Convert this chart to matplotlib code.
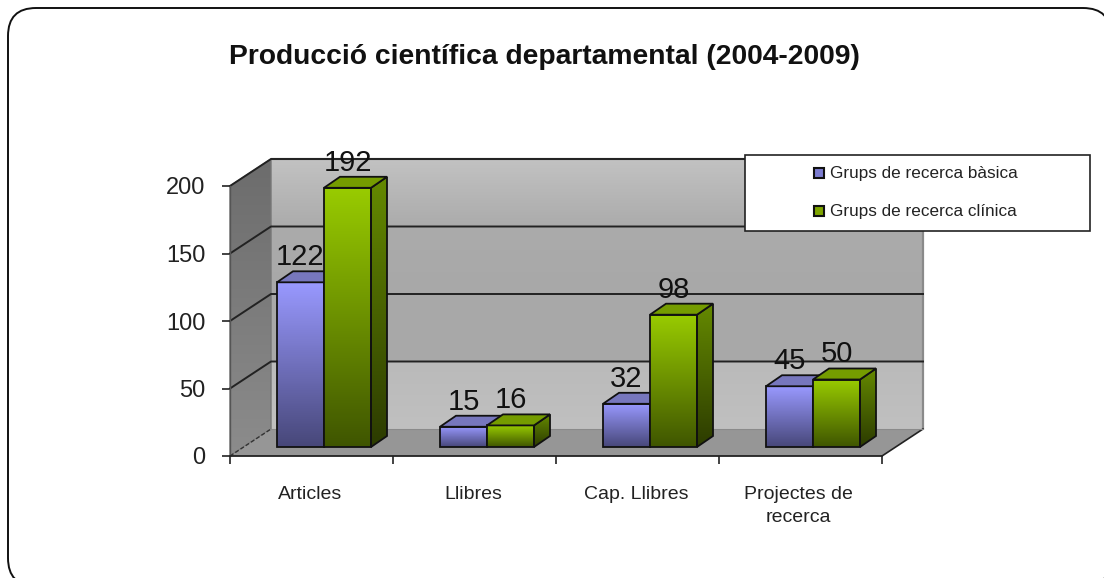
import matplotlib
matplotlib.use("Agg")
import matplotlib.pyplot as plt
from matplotlib.patches import Polygon, FancyBboxPatch, Rectangle
from matplotlib.colors import LinearSegmentedColormap
import numpy as np

categories = ["Articles", "Llibres", "Cap. Llibres", "Projectes de\nrecerca"]
basic_values = [122, 15, 32, 45]
clinical_values = [192, 16, 98, 50]
series_names = ["Grups de recerca bàsica", "Grups de recerca clínica"]
y_ticks = [0, 50, 100, 150, 200]
title = "Producció científica departamental (2004-2009)"

W, H = 1104, 578
plt.rcParams['font.family'] = ['Liberation Sans', 'DejaVu Sans']
fig = plt.figure(figsize=(W / 100, H / 100), dpi=100, facecolor='white')

# overlay in pixel space for the frame and title
bg = fig.add_axes([0, 0, 1, 1])
bg.set_xlim(0, W); bg.set_ylim(H, 0); bg.axis('off')
bg.add_patch(FancyBboxPatch((8, 8), 1103, 578, boxstyle="round,pad=0,rounding_size=28",
                            fc='white', ec='#111111', lw=1.4, clip_on=True))
bg.text(544, 57, title, ha='center', va='center', fontsize=20.3, fontweight='bold', color='#111111')

# front plane of the 3D chart
L, R, B, T = 230, 882, 456, 186
ax = fig.add_axes([L / W, 1 - B / H, (R - L) / W, (B - T) / H])
ax.set_xlim(0, len(categories)); ax.set_ylim(0, 200)
ax.patch.set_alpha(0)
sx = len(categories) / (R - L)      # data units per pixel
sy = 200 / (B - T)
for s in ('top', 'right', 'left'):
    ax.spines[s].set_visible(False)
ax.spines['bottom'].set_color('#222222'); ax.spines['bottom'].set_linewidth(1.3)
ax.spines['bottom'].set_zorder(8)
ax.set_xticks(range(len(categories) + 1)); ax.set_xticklabels([])
ax.set_yticks(y_ticks)
ax.tick_params(axis='y', length=5.8, width=1.2, color='#222222', labelsize=17, pad=12, labelcolor='#222222')
ax.tick_params(axis='x', length=5.5, width=1.2, color='#222222', direction='out')
for i, c in enumerate(categories):
    ax.text(i + 0.49, -22, c, ha='center', va='top', fontsize=14, color='#222222', linespacing=1.5)

dx, dy = 41 * sx, 27 * sy          # wall depth
wall_cm = LinearSegmentedColormap.from_list(
    'w', [(0, '#c0c0c0'), (0.25, '#bababa'), (0.25, '#a9a9a9'), (0.5, '#a8a8a8'), (0.75, '#ababab'), (1, '#c2c2c2')],
    N=512)
side_cm = LinearSegmentedColormap.from_list('s', ['#8c8c8c', '#6c6c6c'])
n_cat = len(categories)


def gradient(poly, cmap, zorder):
    im = ax.imshow(np.linspace(1, 0, 256).reshape(-1, 1), cmap=cmap, aspect='auto', zorder=zorder,
                   extent=(min(p[0] for p in poly), max(p[0] for p in poly),
                           min(p[1] for p in poly), max(p[1] for p in poly)),
                   interpolation='nearest')
    patch = Polygon(poly, closed=True, transform=ax.transData, fc='none', ec='none')
    ax.add_patch(patch)
    patch.set_clip_on(False)
    im.set_clip_box(fig.bbox)
    im.set_clip_path(patch)
    im.set_clip_box(fig.bbox)
    return im


back = [(dx, dy), (n_cat + dx, dy), (n_cat + dx, 200 + dy), (dx, 200 + dy)]
gradient(back, wall_cm, 1)
left = [(0, 0), (dx, dy), (dx, 200 + dy), (0, 200)]
gradient(left, side_cm, 2)
ax.add_patch(Polygon(left, closed=True, fc='none', ec='#777777', lw=1, zorder=2.1, clip_on=False))
ax.add_patch(Polygon([(dx, 200 + dy), (n_cat + dx, 200 + dy), (n_cat + dx, dy)], closed=False, fc='none',
                     ec='#8a8a8a', lw=1.6, zorder=2.1, clip_on=False))
ax.add_patch(Polygon([(0, 0), (n_cat, 0), (n_cat + dx, dy), (dx, dy)], closed=True,
                     fc='#969696', ec='#222222', lw=0, zorder=2.2, clip_on=False))
ax.plot([n_cat, n_cat + dx], [0, dy], color='#222222', lw=1.2, zorder=2.3, clip_on=False)
ax.plot([n_cat + dx, dx], [dy, dy], color='#8a8a8a', lw=0.8, zorder=2.3, clip_on=False)
for t in y_ticks[1:]:
    ax.plot([0, dx, n_cat + dx], [t, t + dy, t + dy], color='#222222', lw=1.4, zorder=3,
            clip_on=False, solid_joinstyle='miter')
ax.plot([0, dx], [0, dy], color='#333333', lw=1, ls=(0, (3, 1.5)), zorder=3, clip_on=False)
ax.plot([0, 0], [0, 200], color='#555555', lw=1, zorder=3, clip_on=False)

# bars
ox, oy = 12.5 * sx, 9 * sy          # bar offset from the front plane
bw = 47 * sx                        # bar width
ddx, ddy = 16 * sx, 11 * sy         # bar depth
front_basic = LinearSegmentedColormap.from_list('fb', ['#474779', '#9999ff'])
front_clin = LinearSegmentedColormap.from_list('fc', ['#3f5500', '#99cc00'])
side_basic = LinearSegmentedColormap.from_list('sb', ['#2e2e55', '#6a6ab4'])
side_clin = LinearSegmentedColormap.from_list('sc', ['#2c3b00', '#658a00'])
tops = ['#7777bd', '#759c00']
edge = '#111111'


def bar3d(x0, v, front, side, top, z):
    y0, y1 = oy, oy + v
    x1 = x0 + bw
    gradient([(x0, y0), (x1, y0), (x1, y1), (x0, y1)], front, z)
    gradient([(x1, y0), (x1 + ddx, y0 + ddy), (x1 + ddx, y1 + ddy), (x1, y1)], side, z)
    ax.add_patch(Polygon([(x0, y0), (x1, y0), (x1, y1), (x0, y1)], closed=True, fc='none', ec=edge, lw=1.3,
                         zorder=z + 0.1, clip_on=False))
    ax.add_patch(Polygon([(x1, y0), (x1 + ddx, y0 + ddy), (x1 + ddx, y1 + ddy), (x1, y1)], closed=True, fc='none',
                         ec=edge, lw=1.3, zorder=z + 0.1, clip_on=False))
    ax.add_patch(Polygon([(x0, y1), (x1, y1), (x1 + ddx, y1 + ddy), (x0 + ddx, y1 + ddy)], closed=True, fc=top,
                         ec=edge, lw=1.3, zorder=z + 0.1, clip_on=False))


label_gap = 25 * sy
for i, (b, c) in enumerate(zip(basic_values, clinical_values)):
    start = i + 0.5 - bw + ox
    bar3d(start, b, front_basic, side_basic, tops[0], 4)
    bar3d(start + bw, c, front_clin, side_clin, tops[1], 5)
    ax.text(start + bw / 2, b + oy + label_gap, str(b), ha='center', va='center',
            fontsize=21, color='#111111', zorder=6, clip_on=False)
    ax.text(start + bw * 1.5, c + oy + label_gap, str(c), ha='center', va='center',
            fontsize=21, color='#111111', zorder=6, clip_on=False)

ax.set_xlim(0, n_cat); ax.set_ylim(0, 200)

# legend box
fg = fig.add_axes([0, 0, 1, 1])
fg.set_xlim(0, W); fg.set_ylim(H, 0); fg.axis('off'); fg.patch.set_alpha(0)
fg.add_patch(Rectangle((745, 155), 345, 76, fc='white', ec='#222222', lw=1.2))
for name, yy, col in zip(series_names, [173, 211], ['#7c7cd0', '#7ea500']):
    fg.add_patch(Rectangle((813.5, yy - 5), 10, 10, fc=col, ec='#111111', lw=1.5))
    fg.text(830, yy + 0.5, name, ha='left', va='center', fontsize=12.3, color='#222222')

fig.savefig('out.png', dpi=100)
